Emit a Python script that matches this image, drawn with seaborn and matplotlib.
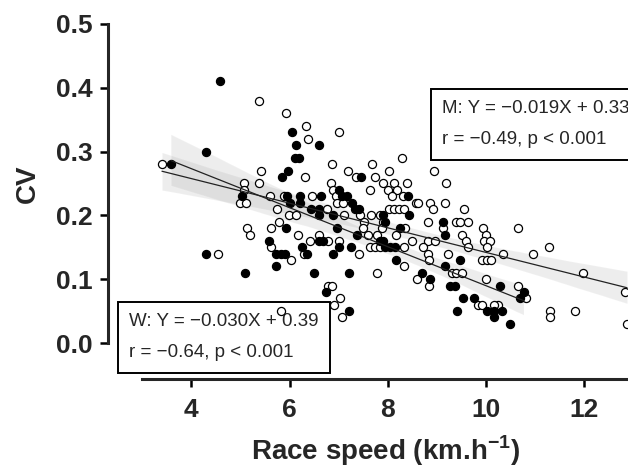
"""
CV vs race speed scatter with W / M regression lines
"""
import matplotlib
matplotlib.use("Agg")
import matplotlib.pyplot as plt
import seaborn as sns
import pandas as pd

# women: filled markers
w_speed = [3.58, 4.29, 4.58, 5.03, 4.29, 5.09, 6.05, 6.13, 6.60, 6.11, 6.19, 5.97, 5.85, 7.45,
           7.01, 5.94, 6.22, 6.64, 7.08, 7.18, 6.02, 6.22, 7.27, 6.43, 6.60, 7.33, 7.41, 6.60,
           6.88, 5.92, 6.97, 7.37, 6.60, 6.69, 5.58, 7.84, 6.26, 7.01, 7.25, 5.72, 5.82, 5.90,
           6.35, 6.89, 5.73, 6.50, 7.22, 6.74, 7.22, 8.41, 7.91, 8.44, 9.13, 7.95, 8.25, 9.17,
           7.91, 7.95, 8.05, 8.15, 9.48, 8.18, 9.17, 8.71, 8.86, 9.27, 9.37, 9.54, 9.77, 9.41,
           10.03, 10.16, 10.33, 10.16, 10.29, 10.77, 10.69, 10.50]
w_cv = [0.28, 0.30, 0.41, 0.23, 0.14, 0.11, 0.33, 0.31, 0.31, 0.29, 0.29, 0.27, 0.26, 0.26,
        0.24, 0.23, 0.23, 0.23, 0.23, 0.23, 0.22, 0.22, 0.22, 0.21, 0.21, 0.21, 0.21, 0.20,
        0.20, 0.18, 0.18, 0.17, 0.16, 0.16, 0.16, 0.16, 0.15, 0.15, 0.15, 0.14, 0.14, 0.14,
        0.14, 0.14, 0.12, 0.11, 0.11, 0.08, 0.05, 0.23, 0.20, 0.20, 0.19, 0.19, 0.18, 0.17,
        0.16, 0.15, 0.15, 0.15, 0.13, 0.13, 0.12, 0.11, 0.10, 0.09, 0.09, 0.07, 0.07, 0.05,
        0.05, 0.05, 0.05, 0.04, 0.09, 0.08, 0.07, 0.03]

# men: open markers
m_speed = [3.40, 5.37, 5.41, 5.37, 5.07, 5.07, 4.99, 5.11, 5.14, 5.20, 4.54, 5.92, 6.33, 6.38,
           7.01, 6.86, 7.20, 7.69, 6.31, 7.35, 7.74, 6.84, 7.64, 7.91, 6.88, 5.60, 5.88, 6.45,
           6.94, 6.97, 7.09, 6.76, 5.75, 5.99, 6.14, 7.11, 7.43, 7.66, 7.84, 7.52, 5.79, 5.62,
           7.50, 6.18, 6.60, 7.60, 7.79, 6.41, 6.79, 7.01, 5.63, 7.64, 7.74, 7.84, 6.30, 7.42,
           6.03, 7.79, 6.79, 6.86, 7.03, 6.90, 7.06, 5.82, 8.30, 8.03, 8.94, 8.13, 8.40, 9.20,
           8.00, 8.20, 8.08, 8.31, 8.58, 8.62, 8.86, 9.17, 8.03, 8.13, 8.24, 8.33, 8.92, 9.56,
           9.40, 9.48, 9.64, 8.83, 7.91, 7.88, 8.35, 9.13, 9.94, 9.51, 10.00, 8.18, 8.49, 8.83,
           8.97, 9.60, 9.97, 10.08, 8.33, 8.73, 9.64, 9.24, 8.83, 9.92, 10.02, 10.10, 8.85, 8.33,
           9.31, 9.39, 9.51, 8.60, 8.85, 9.85, 9.92, 10.26, 10.00, 10.65, 10.03, 10.35, 10.97,
           11.28, 11.99, 12.84, 10.65, 10.82, 11.31, 11.31, 11.82, 12.88, 10.16]
m_cv = [0.28, 0.38, 0.27, 0.25, 0.25, 0.24, 0.22, 0.22, 0.18, 0.17, 0.14, 0.36, 0.34, 0.32,
        0.33, 0.28, 0.27, 0.28, 0.26, 0.26, 0.26, 0.25, 0.24, 0.25, 0.24, 0.23, 0.23, 0.23,
        0.23, 0.22, 0.22, 0.21, 0.21, 0.20, 0.20, 0.20, 0.20, 0.20, 0.20, 0.19, 0.19, 0.18,
        0.18, 0.17, 0.17, 0.17, 0.17, 0.16, 0.16, 0.16, 0.15, 0.15, 0.15, 0.15, 0.14, 0.14,
        0.13, 0.11, 0.09, 0.09, 0.07, 0.06, 0.04, 0.05, 0.29, 0.27, 0.27, 0.25, 0.25, 0.25,
        0.24, 0.24, 0.23, 0.23, 0.22, 0.22, 0.22, 0.22, 0.21, 0.21, 0.21, 0.21, 0.21, 0.21,
        0.19, 0.19, 0.19, 0.19, 0.19, 0.18, 0.18, 0.18, 0.18, 0.17, 0.17, 0.17, 0.16, 0.16,
        0.16, 0.16, 0.16, 0.16, 0.15, 0.15, 0.15, 0.14, 0.14, 0.13, 0.13, 0.13, 0.13, 0.12,
        0.11, 0.11, 0.11, 0.10, 0.09, 0.06, 0.06, 0.06, 0.10, 0.18, 0.15, 0.14, 0.14,
        0.15, 0.11, 0.08, 0.09, 0.07, 0.05, 0.04, 0.05, 0.03, 0.06]

x_ticks = [4, 6, 8, 10, 12]
y_ticks = [0.0, 0.1, 0.2, 0.3, 0.4, 0.5]
w_text = "W: Y = \u22120.030X + 0.39\nr = \u22120.64, p < 0.001"
m_text = "M: Y = \u22120.019X + 0.33\nr = \u22120.49, p < 0.001"

df_w = pd.DataFrame({"speed": w_speed, "cv": w_cv})
df_m = pd.DataFrame({"speed": m_speed, "cv": m_cv})

sns.set_style("ticks")
plt.rcParams["font.family"] = ["Liberation Sans", "DejaVu Sans"]
plt.rcParams["mathtext.fontset"] = "custom"
plt.rcParams["mathtext.rm"] = "Liberation Sans"
plt.rcParams["mathtext.bf"] = "Liberation Sans:bold"

W, H = 628, 468
fig = plt.figure(figsize=(W / 100, H / 100), dpi=100)
# axes box in pixels: left spine at x=108, bottom spine at y=379
AX_L, AX_B, AX_W, AX_H = 108, 379, 520, 379 - 17.6
ax = fig.add_axes([AX_L / W, 1 - AX_B / H, AX_W / W, AX_H / H])

sns.scatterplot(data=df_m, x="speed", y="cv", ax=ax, s=34, facecolor="white",
                edgecolor="black", linewidth=0.9, zorder=3)
sns.scatterplot(data=df_w, x="speed", y="cv", ax=ax, s=34, color="black",
                edgecolor="black", linewidth=0.9, zorder=3)
for d in (df_m, df_w):
    # light confidence band (band takes the line colour, so draw it separately)
    sns.regplot(data=d, x="speed", y="cv", ax=ax, scatter=False, ci=95, seed=1,
                color="0.55", line_kws={"lw": 0})
    # dark fit line on top
    sns.regplot(data=d, x="speed", y="cv", ax=ax, scatter=False, ci=None,
                color="#222222", line_kws={"lw": 0.9, "zorder": 4})

xlo, xhi = 2.3, 12.9
ylo, yhi = -0.0564, 0.51
ax.set_xlim(xlo, xhi)
ax.set_ylim(ylo, yhi)
ax.set_xticks(x_ticks)
ax.set_yticks(y_ticks)
ax.set_yticklabels([f"{v:.1f}" for v in y_ticks])
sns.despine(ax=ax)
ax.spines["left"].set_bounds(0, 0.5)
ax.spines["bottom"].set_bounds(3, xhi)
for s in ("left", "bottom"):
    ax.spines[s].set_linewidth(2.2)
ax.tick_params(length=6, width=1.8, labelsize=19, color="black")
ax.tick_params(axis="x", pad=8)
ax.tick_params(axis="y", pad=5)
for lab in ax.get_xticklabels() + ax.get_yticklabels():
    lab.set_fontweight("bold")

ax.set_xlabel(r"Race speed (km.h$^{\mathbf{-1}}$)", fontsize=20, fontweight="bold")
ax.set_ylabel("CV", fontsize=20, fontweight="bold")
# centre the labels on the drawn spines
ax.xaxis.set_label_coords(((3 + xhi) / 2 - xlo) / (xhi - xlo), -(434 - AX_B) / AX_H)
ax.yaxis.set_label_coords(-(AX_L - 41) / AX_W, (0.25 - ylo) / (yhi - ylo))


def px(x, y):
    # pixel position -> axes fraction
    return (x - AX_L) / AX_W, (AX_B - y) / AX_H


box = dict(boxstyle="square,pad=0.6", fc="white", ec="black", lw=1.4)
ax.text(*px(129, 313), w_text, transform=ax.transAxes,
        fontsize=13.5, ha="left", va="top", linespacing=2.1, bbox=box, zorder=2)
ax.text(*px(442, 100), m_text, transform=ax.transAxes,
        fontsize=13.5, ha="left", va="top", linespacing=2.1, bbox=box, zorder=2)

fig.savefig("out.png", dpi=100)
